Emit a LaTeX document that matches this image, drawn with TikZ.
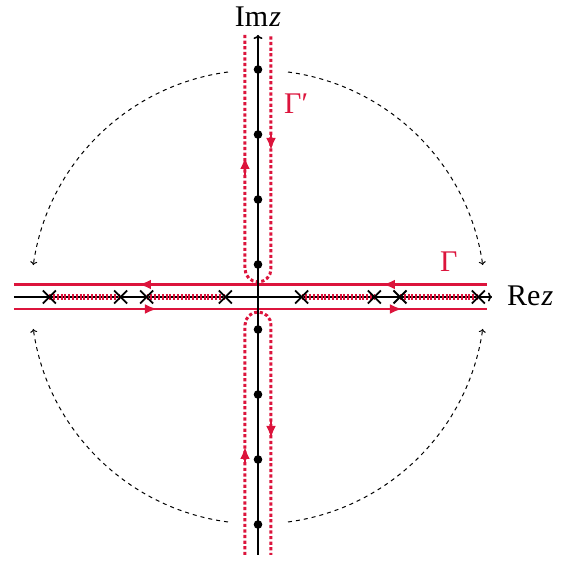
\documentclass[tikz,border=0pt]{standalone}
\usepackage{fontspec}
\setmainfont{Liberation Serif}
\usetikzlibrary{arrows.meta}
\definecolor{crim}{RGB}{220,20,60}
\begin{document}
\begin{tikzpicture}[x=1pt,y=1pt,
  axisline/.style={line width=1.6pt,black},
  redsolid/.style={line width=2.4pt,crim},
  reddash/.style={line width=3pt,crim,dash pattern=on 3.2pt off 2.4pt},
  cutline/.style={line width=5.5pt,crim,dash pattern=on 2pt off 1.8pt},
  redtip/.style={crim,line width=2.4pt,-{Latex[length=12pt,width=10pt]}},
  circarrow/.style={line width=1pt,black,dash pattern=on 4pt off 4pt,-{To[length=3.5pt,width=7pt]}},
  crossmark/.style={line width=1.8pt,black},
  dotmark/.style={fill=black,draw=none},
  lbl/.style={inner sep=0pt,font=\fontsize{30}{36}\selectfont},
]
\useasboundingbox (-258,-265) rectangle (316,297);
% dashed arcs
\draw[circarrow] (97.6:227) arc[start angle=97.6,end angle=171.9,radius=227];
\draw[circarrow] (82.4:227) arc[start angle=82.4,end angle=8.1,radius=227];
\draw[circarrow] (-97.6:227) arc[start angle=-97.6,end angle=-171.9,radius=227];
\draw[circarrow] (-82.4:227) arc[start angle=-82.4,end angle=-8.1,radius=227];
% red horizontal contour lines
\draw[redsolid] (-244,12.5) -- (229,12.5);
\draw[redsolid] (-244,-12) -- (229,-12);
\draw[redtip] (-100,12.5) -- (-119,12.5);
\draw[redtip] (144,12.5) -- (125,12.5);
\draw[redtip] (-120,-12) -- (-101,-12);
\draw[redtip] (125,-12) -- (144,-12);
% red dashed vertical contours
\draw[reddash] (-13,262) -- (-13,28) arc[start angle=180,end angle=360,radius=13] -- (13,262);
\draw[reddash] (-13,-258) -- (-13,-28) arc[start angle=180,end angle=0,radius=13] -- (13,-258);
\draw[redtip] (-13,122) -- (-13,140);
\draw[redtip] (13,165) -- (13,147);
\draw[redtip] (-13,-168) -- (-13,-150);
\draw[redtip] (13,-123) -- (13,-141);
% axes
\draw[axisline,-{To[length=4pt,width=9pt]}] (-244,0) -- (234,0);
\draw[axisline,-{To[length=4pt,width=9pt]}] (0,-258) -- (0,262);
% cuts
\draw[cutline] (-208.7,0) -- (-137.3,0);
\draw[cutline] (-111.3,0) -- (-32.7,0);
\draw[cutline] (43.7,0) -- (116.3,0);
\draw[cutline] (142,0) -- (220.3,0);
% crosses
\foreach \cx in {-208.7,-137.3,-111.3,-32.7,43.7,116.3,142,220.3}{
  \draw[crossmark] (\cx-6.5,-6.5) -- (\cx+6.5,6.5);
  \draw[crossmark] (\cx-6.5,6.5) -- (\cx+6.5,-6.5);
}
% dots
\foreach \cy in {32.5,97.5,162.5,227.5,-32.5,-97.5,-162.5,-227.5}{
  \fill[dotmark] (0,\cy) circle[radius=4.3];
}
% labels
\node[lbl,anchor=base] (imz) at (0,270) {Im\kern1pt\textit{z}};
\node[lbl,anchor=base west] (rez) at (249,-9) {Re\kern1pt\textit{z}};
\node[lbl,anchor=base west,text=crim] (gp) at (26,183) {Γ′};
\node[lbl,anchor=base west,text=crim] (g) at (182,25) {Γ};
\end{tikzpicture}
\end{document}
